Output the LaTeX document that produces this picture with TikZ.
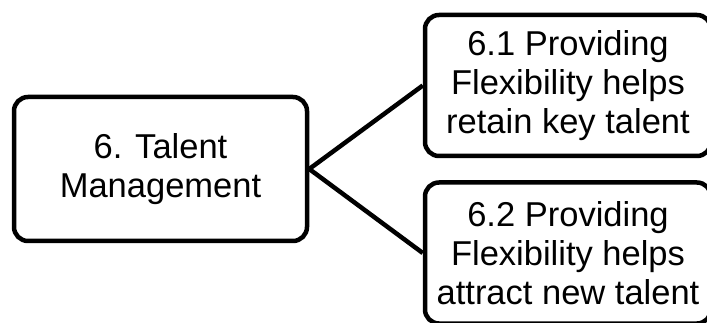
\documentclass[tikz,border=0pt]{standalone}
\usepackage{fontspec}
\setmainfont{Liberation Sans}
\begin{document}
\begin{tikzpicture}[x=1pt,y=-1pt,
  box/.style={draw=black, line width=4.5pt, rounded corners=14pt, fill=white,
    inner sep=0pt, align=center, font=\fontsize{34.5}{39}\selectfont},
  link/.style={draw=black, line width=4.5pt}]
\useasboundingbox (0,0) rectangle (707,323);
\clip (0,0) rectangle (707,323);
\fill[white] (0,0) rectangle (707,323);
\node[box, minimum width=293pt, minimum height=144pt] (tm) at (160.5,169) {6. Talent\\Management};
\node[box, minimum width=286pt, minimum height=141pt] (a) at (568,85.5) {6.1 Providing\\Flexibility helps\\retain key talent};
\node[box, minimum width=286pt, minimum height=141pt] (b) at (568,253) {6.2 Providing\\Flexibility helps\\attract new talent};
\draw[link] (tm.east) -- (a.west);
\draw[link] (tm.east) -- (b.west);
\end{tikzpicture}
\end{document}
